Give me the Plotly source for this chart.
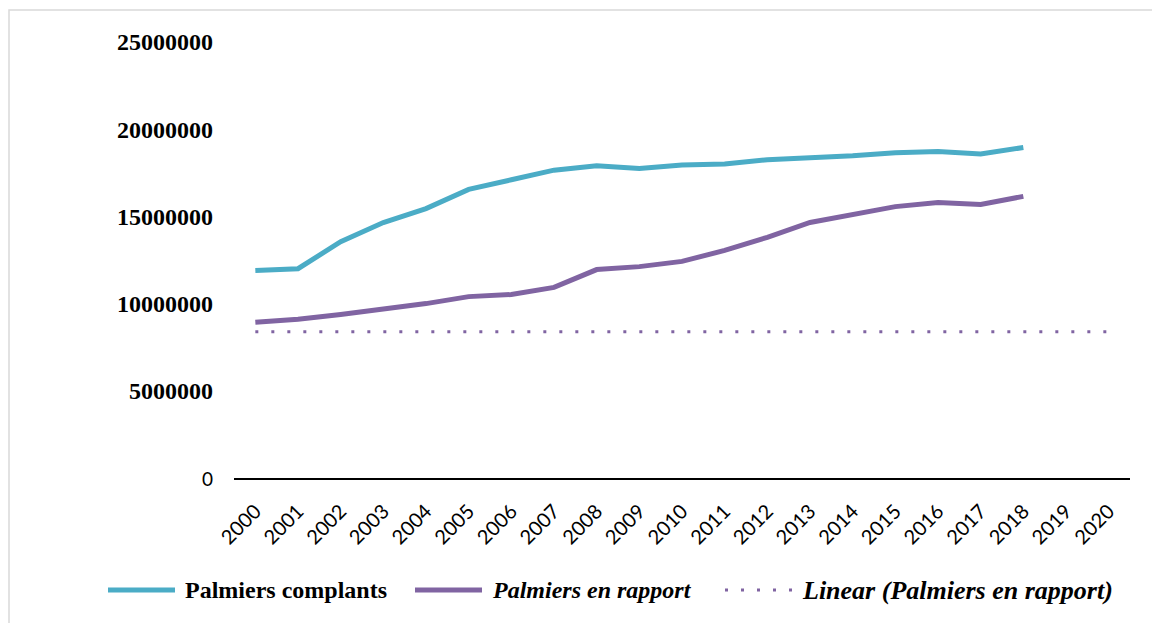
import plotly.graph_objects as go

# data
years = [str(y) for y in range(2000, 2021)]
complants = [11900000, 12000000, 13550000, 14650000, 15450000, 16550000, 17100000,
             17650000, 17900000, 17750000, 17950000, 18000000, 18250000, 18350000,
             18480000, 18650000, 18720000, 18580000, 18950000]
en_rapport = [8930000, 9100000, 9380000, 9670000, 10000000, 10400000, 10520000,
              10930000, 11950000, 12120000, 12420000, 13050000, 13800000, 14650000,
              15120000, 15560000, 15790000, 15680000, 16150000]
linear_years = ["2000", "2020"]
linear_values = [8380000, 8380000]
y_ticks = [0, 5000000, 10000000, 15000000, 20000000, 25000000]

CYAN = "#4BACC6"
PURPLE = "#8064A2"

fig = go.Figure()
fig.add_scatter(x=years[:len(complants)], y=complants, mode="lines",
                line=dict(color=CYAN, width=5), name="Palmiers complants")
fig.add_scatter(x=years[:len(en_rapport)], y=en_rapport, mode="lines",
                line=dict(color=PURPLE, width=5), name="Palmiers en rapport")
fig.add_scatter(x=linear_years, y=linear_values, mode="lines",
                line=dict(color=PURPLE, width=3, dash="3px,13px"),
                name="Linear (Palmiers en rapport)")

ticktext = ["<span style='font-family:Lato;font-weight:normal;font-size:19px'>0</span>"] + \
    ["<b>%d</b>" % v for v in y_ticks[1:]]

# the page body has an 8px margin, so the figure is a bit smaller than the window
fig.update_layout(
    width=1152, height=615,
    margin=dict(l=226, r=30, t=34, b=145),
    paper_bgcolor="white", plot_bgcolor="white",
    showlegend=False,
    xaxis=dict(type="category", categoryorder="array", categoryarray=years,
               range=[-0.5, 20.5], tickvals=years, tickangle=-45,
               tickfont=dict(family="Lato", size=20, color="black"),
               showgrid=False, showline=True, linecolor="black", linewidth=1.5,
               ticks="", zeroline=False, ticklabelstandoff=12),
    yaxis=dict(range=[0, 25000000], tickvals=y_ticks, ticktext=ticktext,
               tickfont=dict(family="Liberation Serif", size=24, color="black"),
               showgrid=False, showline=False, zeroline=False, ticks="",
               ticklabelstandoff=20),
)

# helpers: page pixel -> paper coordinate (plot area spans 234..1130 x 42..478)
def px_x(p):
    return (p - 234) / 896.0

def px_y(p):
    return (478 - p) / 436.0

# outer chart-area frame
fig.add_shape(type="rect", xref="paper", yref="paper",
              x0=px_x(9), x1=px_x(1180), y0=px_y(650), y1=px_y(10),
              line=dict(color="#d9d9d9", width=1.5), layer="below")

# custom legend
ly = px_y(590)
legend_items = [
    (108, 175, dict(color=CYAN, width=5), 183,
     "<b>Palmiers complants</b>", 24),
    (415, 482, dict(color=PURPLE, width=5), 490,
     "<b><i>Palmiers en rapport</i></b>", 24),
    (725, 792, dict(color=PURPLE, width=3, dash="3px,13px"), 800,
     "<i><b>Linear (Palmiers en rapport)</b></i>", 26),
]
for x0, x1, ln, tx, label, size in legend_items:
    fig.add_shape(type="line", xref="paper", yref="paper",
                  x0=px_x(x0), x1=px_x(x1), y0=ly, y1=ly, line=ln)
    fig.add_annotation(xref="paper", yref="paper", x=px_x(tx), y=ly,
                       xanchor="left", yanchor="middle", text=label,
                       showarrow=False,
                       font=dict(family="Liberation Serif", size=size,
                                 color="black", weight="bold"))

fig.write_html("out.html")
